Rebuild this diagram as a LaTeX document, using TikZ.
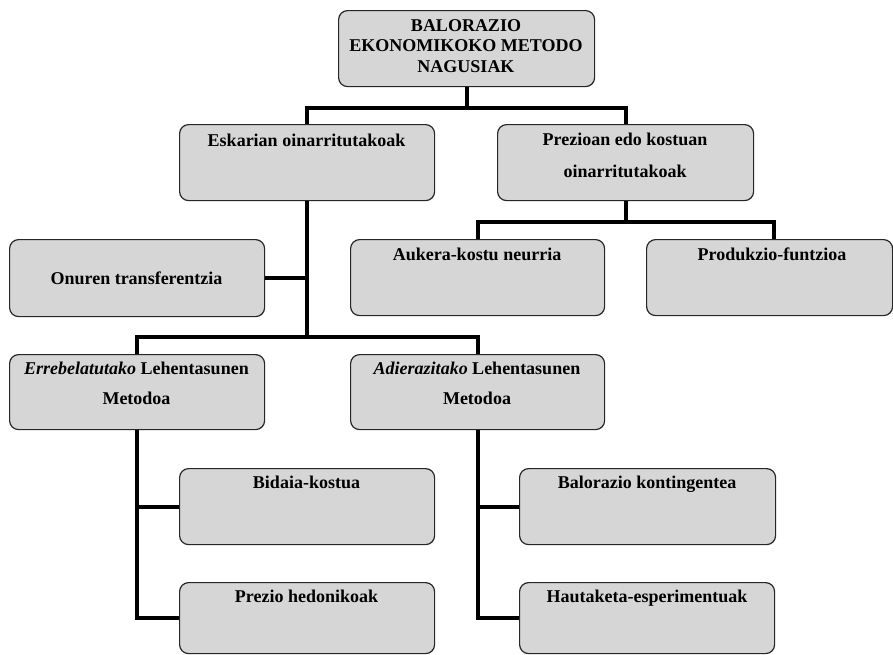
\documentclass[tikz,border=0pt]{standalone}
\usepackage{fontspec}
\setmainfont{Liberation Serif}
\usetikzlibrary{calc}
\definecolor{boxgray}{RGB}{214,214,214}
\begin{document}
\begin{tikzpicture}[x=1pt,y=-1pt,
  box/.style={draw=black!85, line width=1.2pt, fill=boxgray, rounded corners=9pt,
    inner sep=0pt, anchor=north west, minimum width=255, minimum height=76},
  conn/.style={line width=4pt, line join=miter},
  txt/.style={anchor=north, inner sep=0pt, align=center,
    font=\bfseries\fontsize{18}{30}\selectfont, execute at begin node={\rule{0pt}{13pt}}},
]
\useasboundingbox (0,0) rectangle (893,654);
% boxes
\node[box, minimum width=256] (top) at (338,10) {};
\node[box] (esk) at (179,124) {};
\node[box, minimum width=256] (prez) at (497,124) {};
\node[box, minimum height=77] (onu) at (9,239) {};
\node[box, minimum width=254] (auk) at (350,239) {};
\node[box, minimum width=246] (prod) at (646,239) {};
\node[box, minimum height=75] (err) at (9,354) {};
\node[box, minimum width=254, minimum height=75] (adi) at (350,354) {};
\node[box] (bid) at (179,468) {};
\node[box, minimum height=71] (hed) at (179,582) {};
\node[box, minimum width=256] (bal) at (519,468) {};
\node[box, minimum height=71] (hau) at (519,582) {};
% connectors
\draw[conn] (top.south) -- ++(0,21) coordinate (j1);
\draw[conn] (esk.north) |- (j1) -| (prez.north);
\draw[conn] (esk.south) -- ++(0,136) coordinate (j2);
\draw[conn] (onu.east) -- (onu.east -| esk.south);
\draw[conn] (err.north) |- (j2) -| (adi.north);
\draw[conn] (prez.south) -- ++(0,21) coordinate (j3);
\coordinate (pn) at ($(prod.north west)+(128,0)$);
\draw[conn] (auk.north) |- (j3) -| (pn);
\draw[conn] (err.south) |- (hed.west);
\draw[conn] (err.south |- bid.west) -- (bid.west);
\draw[conn] (adi.south) |- (hau.west);
\draw[conn] (adi.south |- bal.west) -- (bal.west);
% texts
\node[txt, font=\bfseries\fontsize{18}{20.5}\selectfont] (ttop) at (466,19) {BALORAZIO\\EKONOMIKOKO METODO\\NAGUSIAK};
\node[txt] (tesk) at (306.5,133) {Eskarian oinarritutakoak};
\node[txt, font=\bfseries\fontsize{18}{32}\selectfont] (tprez) at (625,133) {Prezioan edo kostuan\\oinarritutakoak};
\node[txt] (tonu) at (136.5,271) {Onuren transferentzia};
\node[txt] (tauk) at (477,247) {Aukera-kostu neurria};
\node[txt] (tprod) at (772,247) {Produkzio-funtzioa};
\node[txt] (terr) at (136.5,362) {\textit{Errebelatutako} Lehentasunen\\Metodoa};
\node[txt] (tadi) at (477,362) {\textit{Adierazitako} Lehentasunen\\Metodoa};
\node[txt] (tbid) at (306.5,475) {Bidaia-kostua};
\node[txt] (thed) at (306.5,589) {Prezio hedonikoak};
\node[txt] (tbal) at (647,475) {Balorazio kontingentea};
\node[txt] (thau) at (647,589) {Hautaketa-esperimentuak};
\end{tikzpicture}
\end{document}
